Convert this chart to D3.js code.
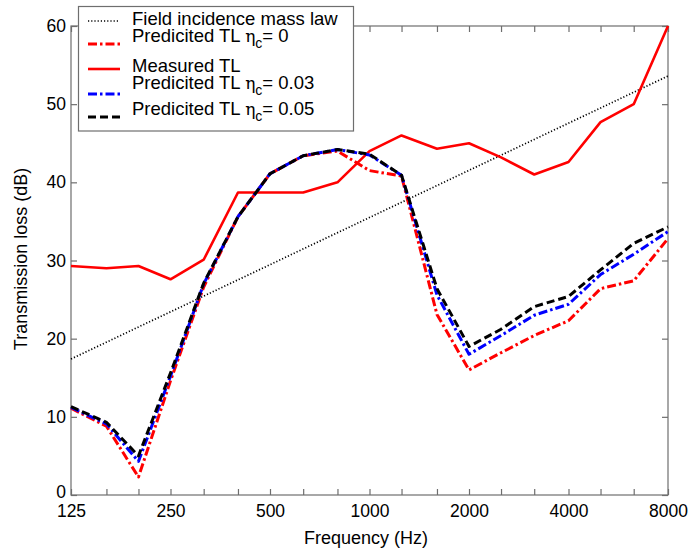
<!DOCTYPE html>
<html>
<head>
<meta charset="utf-8">
<script src="https://cdn.jsdelivr.net/npm/d3@7"></script>
<style>
  html, body { margin: 0; padding: 0; background: #fff; }
  svg text { font-family: "Liberation Sans", Arial, sans-serif; fill: #000; }
</style>
</head>
<body>
<svg id="chart" width="691" height="552"></svg>
<script>
// One-third octave band centre frequencies (Hz)
const bands = [125, 160, 200, 250, 315, 400, 500, 630, 800, 1000, 1250, 1600, 2000, 2500, 3150, 4000, 5000, 6300, 8000];

// Transmission loss values (dB)
const measuredTL = [29.3, 29.0, 29.3, 27.6, 30.1, 38.7, 38.7, 38.7, 40.0, 44.0, 46.0, 44.3, 45.0, 43.2, 41.0, 42.6, 47.7, 50.0, 60.0];
const predictedEta0 = [11.1, 8.8, 2.3, 14.6, 26.6, 35.6, 41.1, 43.4, 44.0, 41.5, 40.8, 23.1, 16.0, 18.2, 20.4, 22.3, 26.4, 27.4, 32.8];
const predictedEta003 = [11.2, 9.1, 4.3, 15.2, 27.0, 35.6, 41.1, 43.4, 44.2, 43.5, 40.9, 25.6, 18.0, 20.4, 23.0, 24.4, 28.2, 30.8, 33.7];
const predictedEta005 = [11.3, 9.3, 5.0, 15.6, 27.1, 35.6, 41.1, 43.4, 44.2, 43.6, 40.9, 26.4, 19.0, 21.2, 24.1, 25.4, 28.8, 32.2, 34.3];

// Field incidence mass law end points
const massLawFreq = [125, 8000];
const massLawTL = [17.4, 53.6];

// Axis ticks
const xTickLabels = [125, 250, 500, 1000, 2000, 4000, 8000];
const yTicks = [0, 10, 20, 30, 40, 50, 60];

const legendLabels = [
  {text: "Field incidence mass law"},
  {text: "Predicited TL ", eta: "= 0"},
  {text: "Measured TL"},
  {text: "Predicited TL ", eta: "= 0.03"},
  {text: "Predicited TL ", eta: "= 0.05"}
];

const svg = d3.select("#chart");
const plotLeft = 71, plotRight = 668, plotTop = 26, plotBottom = 495;

const x = d3.scaleLog().domain([125, 8000]).range([plotLeft, plotRight]);
const y = d3.scaleLinear().domain([0, 60]).range([plotBottom, plotTop]);

const axisColor = "#6e6e6e";
const tickFont = 17.5;

// Frame
svg.append("rect")
  .attr("x", plotLeft).attr("y", plotTop)
  .attr("width", plotRight - plotLeft).attr("height", plotBottom - plotTop)
  .attr("fill", "none").attr("stroke", axisColor).attr("stroke-width", 1.2);

// Bottom axis with inward ticks at every band
const xAxisB = d3.axisBottom(x).tickValues(bands).tickSizeInner(-6).tickSizeOuter(0)
  .tickFormat(d => xTickLabels.includes(d) ? d : "");
const gxB = svg.append("g").attr("transform", `translate(0,${plotBottom})`).call(xAxisB);
gxB.select(".domain").remove();
gxB.selectAll("line").attr("stroke", axisColor).attr("stroke-width", 1.2);
gxB.selectAll("text").attr("font-size", tickFont).attr("dy", 0).attr("y", 22)
  .attr("font-family", "Liberation Sans, Arial, sans-serif");

// Top axis ticks
const xAxisT = d3.axisTop(x).tickValues(bands).tickSizeInner(-6).tickSizeOuter(0).tickFormat("");
const gxT = svg.append("g").attr("transform", `translate(0,${plotTop})`).call(xAxisT);
gxT.select(".domain").remove();
gxT.selectAll("line").attr("stroke", axisColor).attr("stroke-width", 1.2);

// Left axis; the zero label sits a little higher, clear of the "125" label
const yAxisL = d3.axisLeft(y).tickValues(yTicks).tickSizeInner(-6).tickSizeOuter(0);
const gyL = svg.append("g").attr("transform", `translate(${plotLeft},0)`).call(yAxisL);
gyL.select(".domain").remove();
gyL.selectAll("line").attr("stroke", axisColor).attr("stroke-width", 1.2);
gyL.selectAll("text").attr("font-size", tickFont).attr("x", -5)
  .attr("font-family", "Liberation Sans, Arial, sans-serif")
  .attr("y", d => d === 0 ? -3 : 0);

// Right axis ticks
const yAxisR = d3.axisRight(y).tickValues(yTicks).tickSizeInner(-6).tickSizeOuter(0).tickFormat("");
const gyR = svg.append("g").attr("transform", `translate(${plotRight},0)`).call(yAxisR);
gyR.select(".domain").remove();
gyR.selectAll("line").attr("stroke", axisColor).attr("stroke-width", 1.2);

// Axis titles
svg.append("text").attr("x", 366).attr("y", 544)
  .attr("text-anchor", "middle").attr("font-size", 18).text("Frequency (Hz)");
svg.append("text").attr("transform", "translate(27,259) rotate(-90)")
  .attr("text-anchor", "middle").attr("font-size", 18).text("Transmission loss (dB)");

const line = d3.line().x(d => x(d[0])).y(d => y(d[1]));
const plot = svg.append("g");

const series = [
  {vals: d3.zip(massLawFreq, massLawTL), color: "#000", width: 1.7, dash: "1.2,2"},
  {vals: d3.zip(bands, measuredTL), color: "#ff0000", width: 2.6, dash: null},
  {vals: d3.zip(bands, predictedEta0), color: "#ff0000", width: 3, dash: "9,3,2.5,3"},
  {vals: d3.zip(bands, predictedEta003), color: "#0000ff", width: 3, dash: "9,3,2.5,3"},
  {vals: d3.zip(bands, predictedEta005), color: "#000", width: 3, dash: "8,4"}
];
series.forEach(s => {
  plot.append("path").datum(s.vals).attr("d", line)
    .attr("fill", "none").attr("stroke", s.color).attr("stroke-width", s.width)
    .attr("stroke-dasharray", s.dash).attr("stroke-linejoin", "round");
});

// Legend
const lg = svg.append("g");
lg.append("rect").attr("x", 78.5).attr("y", 6.5).attr("width", 275).attr("height", 124.5)
  .attr("fill", "#fff").attr("stroke", axisColor).attr("stroke-width", 1.2);
const legendStyles = [series[0], series[2], series[1], series[3], series[4]];
const sampleY = [21, 44, 69, 94, 117];
const textY = [25, 42, 72, 89, 115];
legendStyles.forEach((s, i) => {
  lg.append("line").attr("x1", 88).attr("x2", 120).attr("y1", sampleY[i]).attr("y2", sampleY[i])
    .attr("stroke", s.color).attr("stroke-width", s.width).attr("stroke-dasharray", s.dash);
  const t = lg.append("text").attr("x", 132).attr("y", textY[i]).attr("font-size", 18.5);
  t.append("tspan").text(legendLabels[i].text);
  if (legendLabels[i].eta) {
    t.append("tspan").attr("font-family", "DejaVu Serif, serif").attr("font-size", 17).text("\u03b7");
    t.append("tspan").attr("font-size", 14).attr("dy", 6).text("c");
    t.append("tspan").attr("dy", -6).text(legendLabels[i].eta);
  }
});
</script>
</body>
</html>
